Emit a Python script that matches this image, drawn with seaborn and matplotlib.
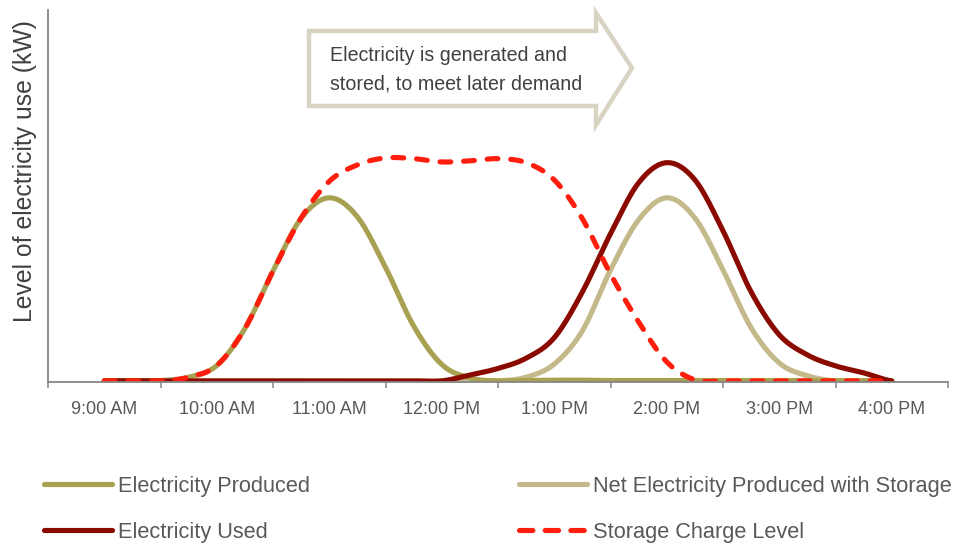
import numpy as np
import pandas as pd
import matplotlib
matplotlib.use("Agg")
import matplotlib.pyplot as plt
from matplotlib.lines import Line2D
from matplotlib.patches import Polygon
import seaborn as sns

# Clock labels shown under the axis (one category per hour)
hour_labels = ["9:00 AM", "10:00 AM", "11:00 AM", "12:00 PM",
               "1:00 PM", "2:00 PM", "3:00 PM", "4:00 PM"]

# Readings every 15 minutes from 9:00 AM to 4:00 PM (29 samples), in kW
quarter_hours = np.linspace(0, 7, 29)

electricity_produced = [0.00, 0.01, 0.01, 0.10, 0.42, 1.43, 3.00, 4.44, 5.00,
                        4.48, 3.10, 1.50, 0.45, 0.08, 0.00, 0.01, 0.02, 0.02,
                        0.01, 0.01, 0.01, 0.01, 0.01, 0.01, 0.01, 0.01, 0.01,
                        0.01, 0.00]

net_with_storage = [0.00, 0.00, 0.00, 0.00, 0.00, 0.00, 0.00, 0.00, 0.00,
                    0.00, 0.00, 0.00, 0.00, 0.00, 0.00, 0.10, 0.46, 1.37,
                    3.03, 4.40, 5.00, 4.45, 3.03, 1.45, 0.49, 0.14, 0.00,
                    0.00, 0.00]

electricity_used = [0.00, 0.00, 0.00, 0.00, 0.00, 0.00, 0.00, 0.00, 0.00,
                    0.00, 0.00, 0.00, 0.00, 0.16, 0.34, 0.62, 1.18, 2.43,
                    4.02, 5.41, 5.96, 5.49, 4.10, 2.43, 1.26, 0.71, 0.41,
                    0.22, 0.00]

storage_charge = [0.00, 0.00, 0.00, 0.10, 0.42, 1.43, 3.00, 4.45, 5.45,
                  5.90, 6.09, 6.07, 5.98, 6.01, 6.07, 5.96, 5.49, 4.43,
                  2.92, 1.61, 0.52, 0.03, 0.00, 0.00, 0.00, 0.00, 0.00,
                  0.00, 0.00]

series_names = ["Electricity Produced", "Net Electricity Produced with Storage",
                "Electricity Used", "Storage Charge Level"]

C_PRODUCED = "#a9a152"
C_NET = "#c4b98a"
C_USED = "#8b0a00"
C_STORAGE = "#ff1e0e"
C_TEXT = "#595959"
C_AXIS = "#868686"


def smoothed(x, y, steps=12):
    """Catmull-Rom smoothing through the readings (smoothed-line style)."""
    x = np.asarray(x, float)
    y = np.asarray(y, float)
    yp = np.concatenate([[y[0]], y, [y[-1]]])
    xs, ys = [], []
    s = np.linspace(0, 1, steps, endpoint=False)
    for i in range(len(y) - 1):
        p0, p1, p2, p3 = yp[i], yp[i + 1], yp[i + 2], yp[i + 3]
        seg = 0.5 * (2 * p1 + (-p0 + p2) * s
                     + (2 * p0 - 5 * p1 + 4 * p2 - p3) * s ** 2
                     + (-p0 + 3 * p1 - 3 * p2 + p3) * s ** 3)
        xs.append(x[i] + (x[i + 1] - x[i]) * s)
        ys.append(seg)
    xs.append([x[-1]])
    ys.append([y[-1]])
    return np.concatenate(xs), np.concatenate(ys)


sns.set_theme(style="white")
plt.rcParams["font.family"] = ["Liberation Sans", "DejaVu Sans"]

W, H = 957, 545
fig = plt.figure(figsize=(W / 100, H / 100), dpi=100)
ax = fig.add_axes([48 / W, 1 - 382 / H, 900 / W, 372 / H])

LW = 3.7
DASH = (2.1, 2.5)
styles = [
    (net_with_storage, C_NET, "-"),
    (electricity_produced, C_PRODUCED, "-"),
    (electricity_used, C_USED, "-"),
    (storage_charge, C_STORAGE, "--"),
]
for vals, color, ls in styles:
    xs, ys = smoothed(quarter_hours, vals)
    df = pd.DataFrame({"x": xs, "y": ys})
    sns.lineplot(data=df, x="x", y="y", ax=ax, color=color, lw=LW,
                 sort=False, estimator=None, legend=False)
    line = ax.lines[-1]
    line.set_solid_capstyle("round")
    if ls == "--":
        line.set_dashes(DASH)
        line.set_dash_capstyle("round")

ax.set_xlim(-0.5, 7.5)
ax.set_ylim(-0.03, 10.13)
ax.set_xlabel("")
ax.set_ylabel("")

ax.set_xticks(range(len(hour_labels)))
ax.set_xticklabels(hour_labels, fontsize=13, color=C_TEXT)
ax.set_xticks(np.arange(-0.5, 8, 1), minor=True)
ax.tick_params(axis="x", which="major", length=0, pad=14)
ax.tick_params(axis="x", which="minor", length=4.5, width=1.1, color=C_AXIS,
               bottom=True, direction="out")
ax.set_yticks([])

for side in ("top", "right"):
    ax.spines[side].set_visible(False)
for side in ("left", "bottom"):
    ax.spines[side].set_color(C_AXIS)
    ax.spines[side].set_linewidth(1.3)

fig.text(25 / W, 1 - 171 / H, "Level of electricity use (kW)", rotation=90,
         ha="center", va="center", fontsize=17.8, color="#404040")

# Block arrow with caption
pts = [(309, 31), (596, 31), (596, 13), (632, 68), (596, 125), (596, 106), (309, 106)]
arrow = Polygon([(px / W, 1 - py / H) for px, py in pts], closed=True,
                transform=fig.transFigure, facecolor="white",
                edgecolor="#d8d3c2", linewidth=3.2, joinstyle="miter")
fig.add_artist(arrow)
fig.text(330 / W, 1 - 55 / H, "Electricity is generated and", ha="left",
         va="center", fontsize=14.1, color="#404040")
fig.text(330 / W, 1 - 84 / H, "stored, to meet later demand", ha="left",
         va="center", fontsize=14.1, color="#404040")


# Legend in two columns
def handle(color, dashed=False):
    h = Line2D([], [], color=color, lw=LW, solid_capstyle="round")
    if dashed:
        h.set_dashes((2.6, 2.4))
        h.set_dash_capstyle("round")
    return h


leg_kw = dict(loc="upper left", frameon=False, prop={"size": 15.7},
              handlelength=3.1, handletextpad=0.28, labelspacing=1.13,
              borderpad=0, borderaxespad=0, labelcolor=C_TEXT)
fig.legend([handle(C_PRODUCED), handle(C_USED)],
           [series_names[0], series_names[2]],
           bbox_to_anchor=(44 / W, 1 - 476 / H), **leg_kw)
fig.legend([handle(C_NET), handle(C_STORAGE, True)],
           [series_names[1], series_names[3]],
           bbox_to_anchor=(519 / W, 1 - 476 / H), **leg_kw)

fig.savefig("out.png", dpi=100)
